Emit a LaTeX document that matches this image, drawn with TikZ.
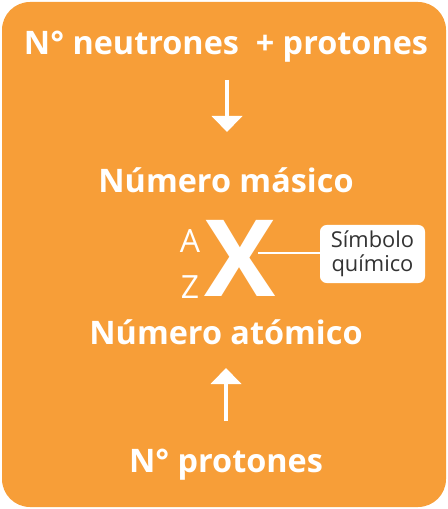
\documentclass[tikz,border=0pt]{standalone}
\usepackage{fontspec}
\setmainfont{Open Sans}
\usetikzlibrary{positioning, arrows.meta}
\definecolor{BoxOrange}{RGB}{247,158,56}
\definecolor{LabelGrey}{RGB}{51,51,51}
\tikzset{
  title/.style={font=\fontsize{24.3}{28}\selectfont\bfseries, text=white, inner sep=0pt},
  small/.style={font=\fontsize{24}{28}\selectfont, text=white, inner sep=0pt},
  bigx/.style={font=\fontsize{80}{88}\selectfont\bfseries, text=white, inner sep=0pt},
  tag/.style={fill=white, rounded corners=5pt, text=LabelGrey, align=center,
    font=\fontsize{16.4}{18}\selectfont, inner sep=0pt, minimum width=105*0.75pt, minimum height=58*0.75pt},
  flow/.style={-{Triangle[width=30*0.75pt, length=16*0.75pt]}, white, line width=4*0.75pt},
}
\begin{document}
\begin{tikzpicture}[x=0.75pt, y=-0.75pt]
  \useasboundingbox (0,0) rectangle (448,509);
  \fill[BoxOrange, rounded corners=28*0.75pt] (2,2) rectangle (446,507);
  % labels
  \node[title] (top) at (226,47) {N° neutrones\ \ + protones};
  \node[title] (mass) at (226,180) {Número másico};
  \node[bigx] (X) at (240,258) {X};
  \node[small] (A) at (190,241) {A};
  \node[small] (Z) at (190,287) {Z};
  \node[tag] (sym) at (372.5,254) {Símbolo\\químico};
  \node[title] (atom) at (226,332) {Número atómico};
  \node[title] (prot) at (226,465) {N° protones};
  \coordinate (xr) at (258,253);
  \coordinate (d1) at (227,80);
  \coordinate (d2) at (227,132);
  \coordinate (u1) at (226,421);
  \coordinate (u2) at (226,368);
  % arrows
  \draw[flow] (d1) -- (d2);
  \draw[flow] (u1) -- (u2);
  \draw[white, line width=2*0.75pt] (xr) -- (xr -| sym.west);
\end{tikzpicture}
\end{document}
